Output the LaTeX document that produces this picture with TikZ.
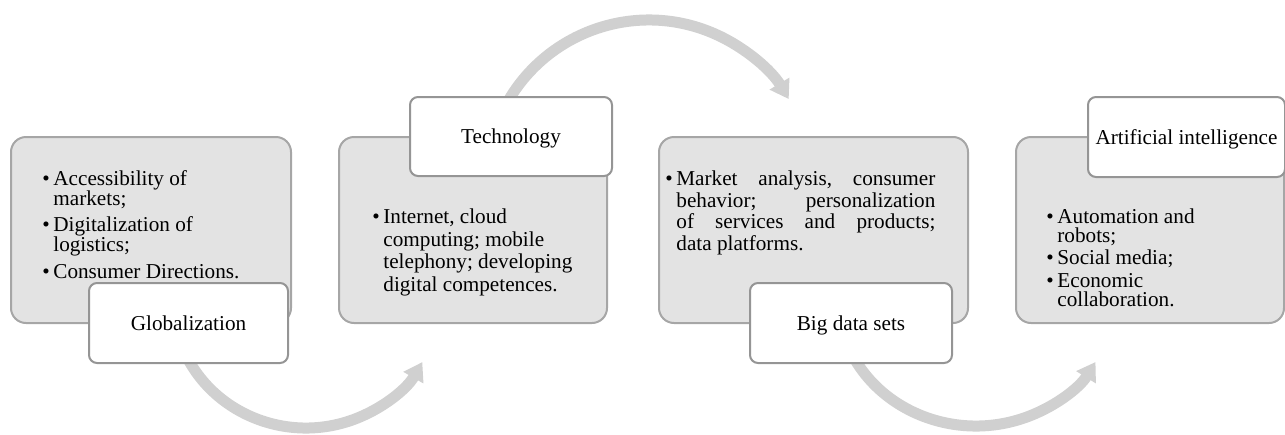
\documentclass[tikz,border=0pt]{standalone}
\usepackage{fontspec}
\setmainfont{Liberation Serif}
\usetikzlibrary{arrows.meta}

\definecolor{boxfill}{HTML}{E3E3E3}
\definecolor{boxline}{HTML}{A6A6A6}
\definecolor{tagline}{HTML}{959595}
\definecolor{flowgray}{HTML}{D0D0D0}

% bullet marker and hanging indent for continuation lines
\newcommand{\itm}{\makebox[5.5pt][l]{\textbullet}}
\newcommand{\cnt}{\hspace*{5.5pt}}
\newcommand{\tallstrut}{\rule{0pt}{8pt}}
% use the font's own (stretchable) interword spaces
\newcommand{\natsp}{\spaceskip=0pt\xspaceskip=0pt\frenchspacing\relax}
% a fully justified line
\newcommand{\jline}[1]{\makebox[129.5pt][s]{\natsp #1}}

\begin{document}
\begin{tikzpicture}[x=0.5pt,y=-0.5pt,
  panel/.style={draw=boxline, fill=boxfill, line width=1pt, rounded corners=7.5pt,
                anchor=north west, inner sep=0pt},
  tag/.style={draw=tagline, fill=white, line width=1pt, rounded corners=4pt,
              anchor=north west, inner sep=0pt,
              font=\fontsize{10.6}{12}\selectfont, text height=7pt, text depth=0pt},
  item/.style={anchor=north west, inner sep=0pt, align=left, text width=140pt,
               font=\fontsize{10.6}{#1}\selectfont},
  flow/.style={draw=flowgray, line width=5.5pt, -{Triangle[length=9pt,width=11pt]}}
]
\useasboundingbox (0,0) rectangle (1285,434);

% centres of the curved flow arrows
\coordinate (c1) at (306,300);
\coordinate (c2) at (649,183);
\coordinate (c3) at (976,298);

% curved arrows (behind the boxes)
\draw[flow] ([shift={(160:133 and 128)}]c1) arc[start angle=160, end angle=29, x radius=133, y radius=128];
\draw[flow] ([shift={(205:163 and 163)}]c2) arc[start angle=205, end angle=329, x radius=163, y radius=163];
\draw[flow] ([shift={(160:138 and 128)}]c3) arc[start angle=160, end angle=30, x radius=138, y radius=128];

% grey panels
\node[panel, minimum width=140pt,   minimum height=93pt] (p1) at (10,136) {};
\node[panel, minimum width=134pt,   minimum height=93pt] (p2) at (338,136) {};
\node[panel, minimum width=154.5pt, minimum height=93pt] (p3) at (658,136) {};
\node[panel, minimum width=134pt,   minimum height=93pt] (p4) at (1015,136) {};

% bullet items (one node per item; first baseline 16 units below the top)
\node[item=10.25pt] (t1a) at (42,169)   {\natsp\tallstrut\itm Accessibility of\\ \cnt markets;};
\node[item=10.25pt] (t1b) at (42,215)   {\natsp\tallstrut\itm Digitalization of\\ \cnt logistics;};
\node[item=10.25pt] (t1c) at (42,262.5) {\natsp\tallstrut\itm Consumer Directions.};

\node[item=11.35pt] (t2a) at (372,207)
  {\natsp\tallstrut\itm Internet, cloud\\ \cnt computing; mobile\\
   \cnt telephony; developing\\ \cnt digital competences.};

\node[item=10.85pt] (t3a) at (665,169)
  {\natsp\tallstrut\itm\jline{Market analysis, consumer}\\
   \cnt\jline{behavior; personalization}\\
   \cnt\jline{of services and products;}\\
   \cnt data platforms.};

\node[item=9.5pt] (t4a) at (1046,207.3) {\natsp\tallstrut\itm Automation and\\ \cnt robots;};
\node[item=9.5pt] (t4b) at (1046,248)   {\natsp\tallstrut\itm Social media;};
\node[item=9.5pt] (t4c) at (1046,270.7) {\natsp\tallstrut\itm Economic\\ \cnt collaboration.};

% white title tags
\node[tag, minimum width=99.5pt, minimum height=40pt]   (g1) at (88,282)   {Globalization};
\node[tag, minimum width=101pt,  minimum height=39.5pt] (g2) at (409,96)   {Technology};
\node[tag, minimum width=101pt,  minimum height=40pt]   (g3) at (749,282)  {Big data sets};
\node[tag, minimum width=98.5pt, minimum height=40pt]   (g4) at (1087,96)  {Artificial intelligence};
\end{tikzpicture}
\end{document}
